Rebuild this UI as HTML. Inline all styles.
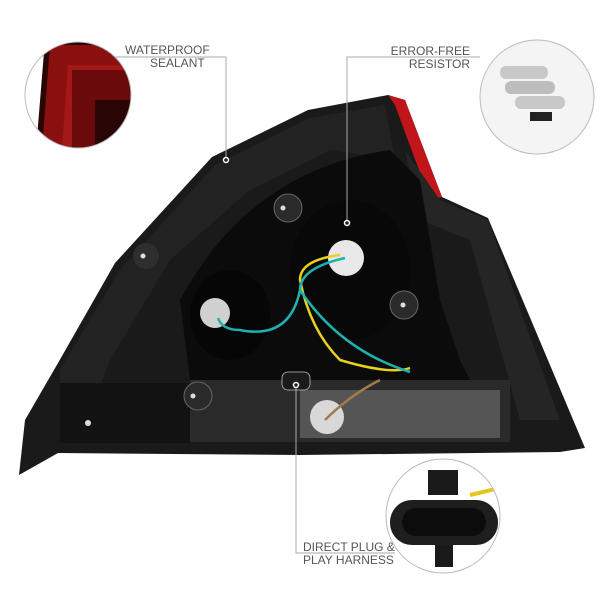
<!DOCTYPE html>
<html><head><meta charset="utf-8"><style>
html,body{margin:0;padding:0;background:#fff;width:600px;height:600px;overflow:hidden}
svg{display:block}
text{font-family:"Liberation Sans",sans-serif;font-size:12px;fill:#555}
</style></head><body>
<svg width="600" height="600" viewBox="0 0 600 600">
<defs>
<clipPath id="c1"><circle cx="78" cy="95" r="53"/></clipPath>
<clipPath id="c2"><circle cx="537" cy="97" r="57"/></clipPath>
<clipPath id="c3"><circle cx="443" cy="516" r="57"/></clipPath>
</defs>
<polygon points="388,95 405,100 442,197 488,218 585,448 560,452 300,455 58,453 19,475 25,420 58,363 115,263 212,157 308,110" fill="#1a1a1a"/>
<polygon points="388,95 405,100 442,197 430,200 395,105" fill="#c0151a"/>
<polygon points="405,150 440,200 488,220 560,420 520,420 470,240 420,220" fill="#252525"/>
<polygon points="60,370 120,270 215,165 310,118 385,105 395,160 330,150 250,190 170,260 110,360 80,440 60,440" fill="#222"/>
<path d="M180,300 Q250,170 390,150 L420,180 L440,300 L460,360 L470,380 L190,380 Z" fill="#0b0b0b"/>
<rect x="190" y="380" width="320" height="62" fill="#2a2a2a"/>
<rect x="300" y="390" width="200" height="48" fill="#555"/>
<rect x="60" y="383" width="130" height="60" fill="#121212"/>
<ellipse cx="230" cy="315" rx="40" ry="45" fill="#060606"/>
<ellipse cx="350" cy="270" rx="60" ry="70" fill="#080808"/>
<circle cx="346" cy="258" r="18" fill="#e8e8e8"/>
<circle cx="215" cy="313" r="15" fill="#d0d0d0"/>
<circle cx="327" cy="417" r="17" fill="#d8d8d8"/>
<circle cx="288" cy="208" r="14" fill="#2a2a2a" stroke="#666"/><circle cx="283" cy="208" r="2.5" fill="#ddd"/>
<circle cx="404" cy="305" r="14" fill="#2a2a2a" stroke="#666"/><circle cx="403" cy="305" r="2.5" fill="#ddd"/>
<circle cx="198" cy="396" r="14" fill="#2a2a2a" stroke="#666"/><circle cx="193" cy="396" r="2.5" fill="#ddd"/>
<circle cx="146" cy="256" r="13" fill="#2e2e2e"/><circle cx="143" cy="256" r="2.5" fill="#ddd"/>
<circle cx="88" cy="423" r="3" fill="#ddd"/>
<path d="M340,255 Q300,260 300,280 Q310,330 340,360 Q390,375 410,368" stroke="#e6d21c" stroke-width="2.5" fill="none"/>
<path d="M345,258 Q300,268 300,290 Q290,340 240,330 Q222,330 218,318" stroke="#1fb0b0" stroke-width="2.5" fill="none"/>
<path d="M300,290 Q340,350 410,372" stroke="#1fb0b0" stroke-width="2.5" fill="none"/>
<path d="M380,380 Q350,395 325,420" stroke="#a57a4a" stroke-width="2.5" fill="none"/>
<rect x="282" y="372" width="28" height="18" rx="6" fill="#1a1a1a" stroke="#999"/>
<g stroke="#aaa" stroke-width="1" fill="none">
<polyline points="115,57 226,57 226,160"/>
<polyline points="480,57 347,57 347,223"/>
<polyline points="296,385 296,553 395,553"/>
</g>
<g fill="#1e1e1e" stroke="#fff" stroke-width="1.5">
<circle cx="226" cy="160" r="2.5"/><circle cx="347" cy="223" r="2.5"/><circle cx="296" cy="385" r="2.5"/>
</g>
<g clip-path="url(#c1)">
<rect x="20" y="40" width="115" height="110" fill="#fff"/>
<path d="M45,40 L135,40 L135,150 L36,150 Z" fill="#2a0505"/>
<path d="M50,45 L135,45 L135,150 L42,150 Z" fill="#8a1010"/>
<path d="M68,65 L135,65 L135,150 L62,150 Z" fill="#a51818"/>
<path d="M72,70 L135,70 L135,150 L72,150 Z" fill="#6a0a0a"/>
<path d="M95,100 L135,100 L135,150 L95,150 Z" fill="#2a0505"/>
</g>
<circle cx="78" cy="95" r="53" fill="none" stroke="#bbb"/>
<g clip-path="url(#c2)">
<rect x="475" y="38" width="125" height="120" fill="#f4f4f4"/>
<rect x="500" y="66" width="48" height="13" rx="6" fill="#c8c8c8"/>
<rect x="505" y="81" width="50" height="13" rx="6" fill="#bdbdbd"/>
<rect x="515" y="96" width="50" height="13" rx="6" fill="#c8c8c8"/>
<rect x="530" y="112" width="22" height="9" fill="#222"/>
</g>
<circle cx="537" cy="97" r="57" fill="none" stroke="#bbb"/>
<g clip-path="url(#c3)">
<rect x="380" y="455" width="130" height="125" fill="#fff"/>
<rect x="428" y="470" width="30" height="25" fill="#1a1a1a"/>
<rect x="435" y="542" width="18" height="25" fill="#1a1a1a"/>
<rect x="390" y="500" width="108" height="45" rx="22" fill="#1e1e1e"/>
<rect x="402" y="508" width="84" height="28" rx="14" fill="#0c0c0c"/>
<path d="M470,495 L500,488" stroke="#e6c51c" stroke-width="4"/>
</g>
<circle cx="443" cy="516" r="57" fill="none" stroke="#bbb"/>
<text x="125" y="54">WATERPROOF</text>
<text x="150" y="67">SEALANT</text>
<text x="470" y="55" text-anchor="end">ERROR-FREE</text>
<text x="470" y="68" text-anchor="end">RESISTOR</text>
<text x="303" y="551">DIRECT PLUG &amp;</text>
<text x="303" y="564">PLAY HARNESS</text>
</svg>
</body></html>
